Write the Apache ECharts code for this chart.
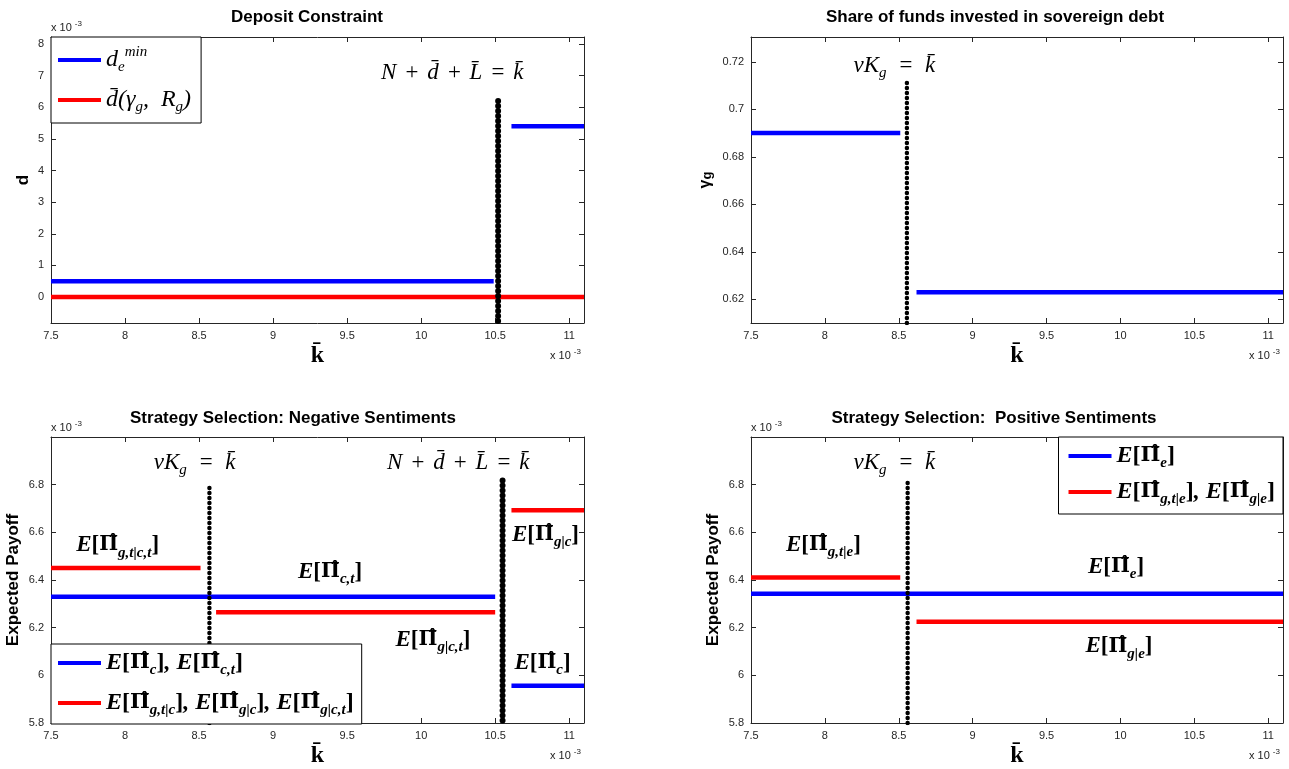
<!DOCTYPE html>
<html><head><meta charset="utf-8">
<script src="https://cdn.jsdelivr.net/npm/echarts@6/dist/echarts.min.js"></script>
<style>html,body{margin:0;padding:0;background:#fff}#c{width:1289px;height:769px}</style>
</head><body><div id="c"></div>
<script>
// ---------- tick labels ----------
const xTickValues = [7.5, 8, 8.5, 9, 9.5, 10, 10.5, 11];
const depositTicks = [0, 1, 2, 3, 4, 5, 6, 7, 8];
const shareTicks = [0.62, 0.64, 0.66, 0.68, 0.7, 0.72];
const payoffTicks = [5.8, 6, 6.2, 6.4, 6.6, 6.8];
const xRange = [7.5, 11.1];
const depositRange = [-0.82, 8.22];
const shareRange = [0.61, 0.7305];
const payoffRange = [5.8, 7.0];

// ---------- panel 1 : Deposit Constraint (x, y in 1e-3) ----------
const dMinBefore = [[7.5, 0.5], [10.49, 0.5]];
const dMinAfter = [[10.61, 5.4], [11.1, 5.4]];
const dBarAll = [[7.5, 0], [11.1, 0]];
const depositBoundary = [[10.52, -0.76], [10.52, 6.22]];

// ---------- panel 2 : share in sovereign debt ----------
const gammaBefore = [[7.5, 0.69], [8.51, 0.69]];
const gammaAfter = [[8.62, 0.623], [11.1, 0.623]];
const gammaBoundary = [[8.555, 0.61], [8.555, 0.7114]];

// ---------- panel 3 : negative sentiments ----------
const negPcLeft = [[7.5, 6.33], [10.5, 6.33]];
const negPcRight = [[10.61, 5.956], [11.1, 5.956]];
const negPgtLeft = [[7.5, 6.45], [8.51, 6.45]];
const negPgMid = [[8.615, 6.265], [10.5, 6.265]];
const negPgRight = [[10.61, 6.693], [11.1, 6.693]];
const negBoundaryV = [[8.57, 5.8], [8.57, 6.8]];
const negBoundaryN = [[10.55, 5.81], [10.55, 6.83]];

// ---------- panel 4 : positive sentiments ----------
const posPe = [[7.5, 6.342], [11.1, 6.342]];
const posPgtLeft = [[7.5, 6.41], [8.51, 6.41]];
const posPgRight = [[8.62, 6.225], [11.1, 6.225]];
const posBoundaryV = [[8.56, 5.8], [8.56, 6.81]];

// ---------- annotation anchors (data coords) ----------
const notes1 = [[10.21, 7.09, 'eqN']];
const notes2 = [[8.47, 0.7183, 'eqV']];
const notes3 = [[8.47, 6.892, 'eqV'], [10.25, 6.892, 'eqN'], [7.95, 6.546, 'Pgtct'], [9.385, 6.434, 'Pct'],
                [10.08, 6.149, 'Pgct'], [10.84, 6.59, 'Pgc'], [10.82, 6.052, 'Pc']];
const notes4 = [[8.47, 6.892, 'eqV'], [7.99, 6.548, 'Pgte'], [9.97, 6.455, 'Pe'], [9.99, 6.121, 'Pge']];

const SERIF = 'Liberation Serif';
const SANS = 'Liberation Sans';
function richSet(big, small) {
  return {
    m: {fontFamily: SERIF, fontStyle: 'italic', fontSize: big, lineHeight: 30, color: '#000'},
    s: {fontFamily: SERIF, fontStyle: 'italic', fontSize: small, lineHeight: 14, verticalAlign: 'bottom', color: '#000'},
    u: {fontFamily: SERIF, fontStyle: 'italic', fontSize: small, lineHeight: 14, verticalAlign: 'top', color: '#000'},
    e: {fontFamily: SERIF, fontStyle: 'italic', fontWeight: 'bold', fontSize: big, lineHeight: 30, color: '#000'},
    b: {fontFamily: SERIF, fontWeight: 'bold', fontSize: big, lineHeight: 30, color: '#000'},
    p: {fontFamily: 'DejaVu Serif', fontWeight: 'bold', fontSize: big - 3, lineHeight: 30, color: '#000'},
    es: {fontFamily: SERIF, fontStyle: 'italic', fontWeight: 'bold', fontSize: small, lineHeight: 14, verticalAlign: 'bottom', color: '#000'}
  };
}
const RICH = richSet(23, 15);
const P = (sub) => '{e|E}{b|[}{p|Π\u0302}{es|' + sub + '}{b|]}';
const SP = '\u2004';
const TEX = {
  eqN: '{m|N' + SP + '+' + SP + 'd\u0304' + SP + '+' + SP + 'L\u0304' + SP + '=' + SP + 'k\u0304}',
  eqV: '{m|vK}{s|g}{m|\u2002=\u2002k\u0304}',
  Pgtct: P('g,t|c,t'), Pct: P('c,t'), Pgct: P('g|c,t'), Pgc: P('g|c'), Pc: P('c'),
  Pgte: P('g,t|e'), Pe: P('e'), Pge: P('g|e'),
  dmin: '{m|d}{s|e}{u|min}',
  dbar: '{m|d\u0304(γ}{s|g}{m|,\u2002R}{s|g}{m|)}',
  Pc3: P('c') + '{e|, }' + P('c,t'),
  Pg3: P('g,t|c') + '{e|, }' + P('g|c') + '{e|, }' + P('g|c,t'),
  Pe4: P('e'),
  Pg4: P('g,t|e') + '{e|, }' + P('g|e')
};

const BLUE = '#0000ff', RED = '#ff0000';
const grids = [
  {left: 51, top: 37, width: 533, height: 286},
  {left: 751, top: 37, width: 532, height: 286},
  {left: 51, top: 437, width: 533, height: 286},
  {left: 751, top: 437, width: 532, height: 286}
];
const yRanges = [depositRange, shareRange, payoffRange, payoffRange];
const yTicks = [depositTicks, shareTicks, payoffTicks, payoffTicks];
const yNames = ['d', '{a|γ}{b|g}', 'Expected Payoff', 'Expected Payoff'];
const yNameGaps = [19, 37, 29, 29];

const AX = '#262626';
const xAxes = [], yAxes = [];
for (let i = 0; i < 4; i++) {
  xAxes.push({
    gridIndex: i, type: 'value', min: xRange[0], max: xRange[1], position: 'bottom',
    axisLine: {show: true, onZero: false, lineStyle: {color: AX, width: 1}},
    axisTick: {show: true, inside: true, length: 5, customValues: xTickValues, lineStyle: {color: AX}},
    axisLabel: {show: true, customValues: xTickValues, color: AX, fontFamily: SANS, fontSize: 11, margin: 7},
    splitLine: {show: false},
    name: 'k\u0304', nameLocation: 'middle', nameGap: 21,
    nameTextStyle: {fontFamily: SERIF, fontWeight: 'bold', fontSize: 24, color: '#000'}
  });
}
for (let i = 0; i < 4; i++) {
  xAxes.push({
    gridIndex: i, type: 'value', min: xRange[0], max: xRange[1], position: 'top',
    axisLine: {show: true, onZero: false, lineStyle: {color: AX, width: 1}},
    axisTick: {show: true, inside: true, length: 5, customValues: xTickValues, lineStyle: {color: AX}},
    axisLabel: {show: false}, splitLine: {show: false}
  });
}
for (let i = 0; i < 4; i++) {
  yAxes.push({
    gridIndex: i, type: 'value', min: yRanges[i][0], max: yRanges[i][1], position: 'left',
    axisLine: {show: true, onZero: false, lineStyle: {color: AX, width: 1}},
    axisTick: {show: true, inside: true, length: 5, customValues: yTicks[i], lineStyle: {color: AX}},
    axisLabel: {show: true, customValues: yTicks[i], color: AX, fontFamily: SANS, fontSize: 11, margin: 7},
    splitLine: {show: false},
    name: yNames[i], nameLocation: 'middle', nameGap: yNameGaps[i],
    nameTextStyle: {fontFamily: SANS, fontWeight: 'bold', fontSize: 17, color: '#000',
      rich: {a: {fontFamily: SANS, fontSize: 16, color: '#000'}, b: {fontFamily: SANS, fontWeight: 'bold', fontSize: 13, verticalAlign: 'bottom', lineHeight: 12, color: '#000'}}}
  });
}
for (let i = 0; i < 4; i++) {
  yAxes.push({
    gridIndex: i, type: 'value', min: yRanges[i][0], max: yRanges[i][1], position: 'right',
    axisLine: {show: true, onZero: false, lineStyle: {color: AX, width: 1}},
    axisTick: {show: true, inside: true, length: 5, customValues: yTicks[i], lineStyle: {color: AX}},
    axisLabel: {show: false}, splitLine: {show: false}
  });
}

function seg(name, data, color, gi) {
  return {type: 'line', name: name, data: data, xAxisIndex: gi, yAxisIndex: gi, symbol: 'none',
    lineStyle: {color: color, width: 4.5}, itemStyle: {color: color}, silent: true, z: 3};
}
function dots(data, gi, width, gap) {
  return {type: 'line', data: data, xAxisIndex: gi, yAxisIndex: gi, symbol: 'none', silent: true, z: 4,
    lineStyle: {color: '#000', width: width, type: [0, gap], cap: 'round'}};
}
function notes(arr, gi) {
  return {type: 'scatter', xAxisIndex: gi, yAxisIndex: gi, symbolSize: 1, silent: true, z: 6,
    itemStyle: {color: 'rgba(0,0,0,0)'},
    data: arr.map(n => ({value: [n[0], n[1]], key: n[2]})),
    label: {show: true, position: 'inside', color: '#000', textBorderWidth: 0, opacity: 1,
      formatter: p => TEX[p.data.key], rich: RICH}};
}

const series = [
  seg('dbar', dBarAll, RED, 0),
  seg('dmin', dMinBefore, BLUE, 0),
  seg('dmin', dMinAfter, BLUE, 0),
  dots(depositBoundary, 0, 6, 5),
  notes(notes1, 0),

  seg('gamma', gammaBefore, BLUE, 1),
  seg('gamma', gammaAfter, BLUE, 1),
  dots(gammaBoundary, 1, 4.5, 5),
  notes(notes2, 1),

  seg('Pc3', negPcLeft, BLUE, 2),
  seg('Pc3', negPcRight, BLUE, 2),
  seg('Pg3', negPgtLeft, RED, 2),
  seg('Pg3', negPgMid, RED, 2),
  seg('Pg3', negPgRight, RED, 2),
  dots(negBoundaryV, 2, 4.5, 5),
  dots(negBoundaryN, 2, 6, 5),
  notes(notes3, 2),

  seg('Pe4', posPe, BLUE, 3),
  seg('Pg4', posPgtLeft, RED, 3),
  seg('Pg4', posPgRight, RED, 3),
  dots(posBoundaryV, 3, 4.5, 5),
  notes(notes4, 3)
];

const LRICH = richSet(24, 15);
function legend(names, pos, gap, pad) {
  return Object.assign({
    orient: 'vertical', data: names, icon: 'rect', itemWidth: 43, itemHeight: 4, itemGap: gap,
    backgroundColor: '#fff', borderColor: '#000', borderWidth: 1, borderRadius: 0,
    padding: pad, selectedMode: false, z: 10,
    formatter: n => TEX[n],
    textStyle: {rich: LRICH, color: '#000'}
  }, pos);
}

function mult(x, y) {
  return {type: 'text', x: x, y: y, z: 20, style: {text: '{a|x 10}{b|-3}', fill: '#222',
    rich: {a: {fontFamily: SANS, fontSize: 11, lineHeight: 16, fill: '#222'},
           b: {fontFamily: SANS, fontSize: 8, lineHeight: 10, verticalAlign: 'top', fill: '#222', padding: [0, 0, 0, 3]}}}};
}
function title(text, x, y) {
  return {type: 'text', x: x, y: y, z: 20, style: {text: text, fill: '#000', fontFamily: SANS, fontWeight: 'bold',
    fontSize: 17, align: 'center', verticalAlign: 'middle'}};
}

const option = {
  animation: false,
  backgroundColor: '#fff',
  grid: grids,
  xAxis: xAxes,
  yAxis: yAxes,
  series: series,
  legend: [
    legend(['dmin', 'dbar'], {left: 51, top: 37}, 13, [8, 10, 8, 7]),
    legend(['Pc3', 'Pg3'], {left: 51, top: 644}, 13, [7, 8, 6, 7]),
    legend(['Pe4', 'Pg4'], {right: 6, top: 437}, 9, [7, 8, 7, 10])
  ],
  graphic: [
    title('Deposit Constraint', 307, 17),
    title('Share of funds invested in sovereign debt', 995, 17),
    title('Strategy Selection: Negative Sentiments', 293, 418),
    title('Strategy Selection:  Positive Sentiments', 994, 418),
    mult(51, 20), mult(550, 348),
    mult(1249, 348),
    mult(51, 420), mult(550, 748),
    mult(751, 420), mult(1249, 748)
  ]
};
const chart = echarts.init(document.getElementById('c'));
chart.setOption(option);
</script>
</body></html>
